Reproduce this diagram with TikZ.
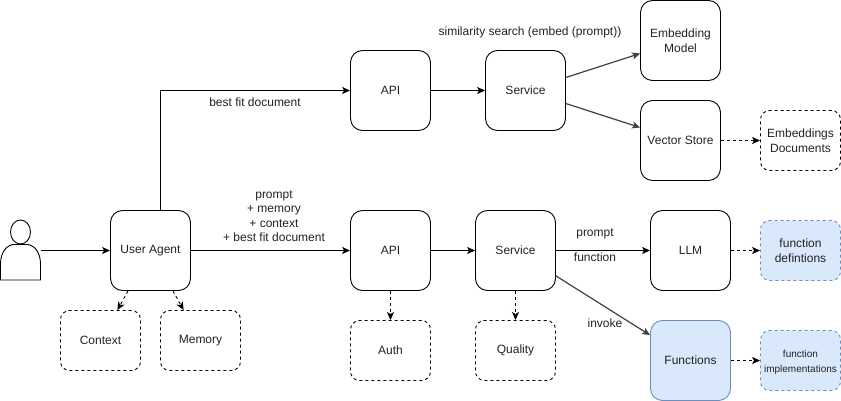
\documentclass[tikz,border=0pt]{standalone}
\usepackage{fontspec}
\setmainfont{Liberation Sans}
\usetikzlibrary{arrows.meta,calc}
\definecolor{bluefill}{HTML}{DAE8FC}
\definecolor{bluedraw}{HTML}{6C8EBF}
\definecolor{inktext}{HTML}{222222}
\tikzset{
  base/.style={draw=black,line width=0.9pt,inner sep=0pt,align=center,text=inktext,font=\fontsize{12}{14.5}\selectfont},
  bigbox/.style={base,minimum width=80pt,minimum height=80pt,rounded corners=12pt},
  dashbox/.style={base,minimum width=80pt,minimum height=60pt,rounded corners=9pt,dash pattern=on 3pt off 3pt},
  blue/.style={fill=bluefill,draw=bluedraw},
  lbl/.style={inner sep=0pt,align=center,text=inktext,font=\fontsize{12}{14.4}\selectfont},
  solidarrow/.style={draw=black,line width=0.9pt,-{Stealth[length=8pt,width=7pt,inset=2pt]}},
  slantarrow/.style={solidarrow,draw=black!75,line width=1.2pt},
  dasharrow/.style={solidarrow,dash pattern=on 3pt off 3pt},
}
\begin{document}
\begin{tikzpicture}[x=1pt,y=-1pt]
\useasboundingbox (0,0) rectangle (841,401);
% person
\node[inner sep=0pt,minimum width=40pt,minimum height=60pt] (person) at (20.5,250.5) {};
\draw[line width=0.9pt] (20.5,232) ellipse [x radius=10,y radius=12];
\draw[line width=0.9pt] (0.5,280) -- (0.5,264) .. controls (0.5,251) and (8,244.5) .. (14,244.5) -- (27,244.5) .. controls (33,244.5) and (40.5,251) .. (40.5,264) -- (40.5,280) -- cycle;
% nodes
\node[bigbox] (ua) at (150.5,250.5) {User Agent};
\node[dashbox] (context) at (100.5,340.5) {Context};
\node[dashbox] (memory) at (200.5,340.5) {Memory};
\node[bigbox] (apitop) at (390.5,90.5) {API};
\node[bigbox] (svctop) at (525.5,90.5) {Service};
\node[bigbox] (embed) at (680.5,40.5) {Embedding\\Model};
\node[bigbox] (vector) at (680.5,140.5) {Vector Store};
\node[dashbox] (docs) at (800.5,140.5) {Embeddings\\Documents};
\node[bigbox] (api) at (390.5,250.5) {API};
\node[bigbox] (svc) at (515.5,250.5) {Service};
\node[bigbox] (llm) at (690.5,250.5) {LLM};
\node[dashbox,blue] (defs) at (800.5,250.5) {function\\defintions};
\node[bigbox,blue] (funcs) at (690.5,360.5) {Functions};
\node[dashbox,blue,font=\fontsize{10}{15}\selectfont] (impl) at (800.5,360.5) {\rule{0pt}{12pt}function\\implementations};
\node[dashbox] (auth) at (390.5,350.5) {Auth};
\node[dashbox] (quality) at (515.5,350.5) {Quality};
% connectors
\draw[solidarrow] (person.east) -- (ua.west);
\draw[solidarrow] ($(ua.north)+(10,0)$) |- (apitop.west);
\draw[solidarrow] (ua.east) -- (api.west);
\draw[dasharrow] (ua) -- (context);
\draw[dasharrow] (ua) -- (memory);
\draw[solidarrow] (apitop.east) -- (svctop.west);
\draw[slantarrow] (svctop) -- (embed);
\draw[slantarrow] (svctop) -- (vector);
\draw[dasharrow] (vector.east) -- (docs.west);
\draw[solidarrow] (api.east) -- (svc.west);
\draw[solidarrow] (svc.east) -- (llm.west);
\draw[slantarrow] (svc) -- (funcs);
\draw[dasharrow] (llm.east) -- (defs.west);
\draw[dasharrow] (funcs.east) -- (impl.west);
\draw[dasharrow] (api.south) -- (auth.north);
\draw[dasharrow] (svc.south) -- (quality.north);
% labels
\node[lbl] (lsim) at (530,32.5) {similarity search (embed (prompt))};
\node[lbl] (lbest) at (255,102) {best fit document};
\node[lbl] (lprompt) at (274,216) {prompt\\+ memory\\+ context\\+ best fit document};
\node[lbl] (lp2) at (595,233.5) {prompt};
\node[lbl] (lf2) at (595,257.5) {function};
\node[lbl] (linv) at (605,323.5) {invoke};
\end{tikzpicture}
\end{document}
